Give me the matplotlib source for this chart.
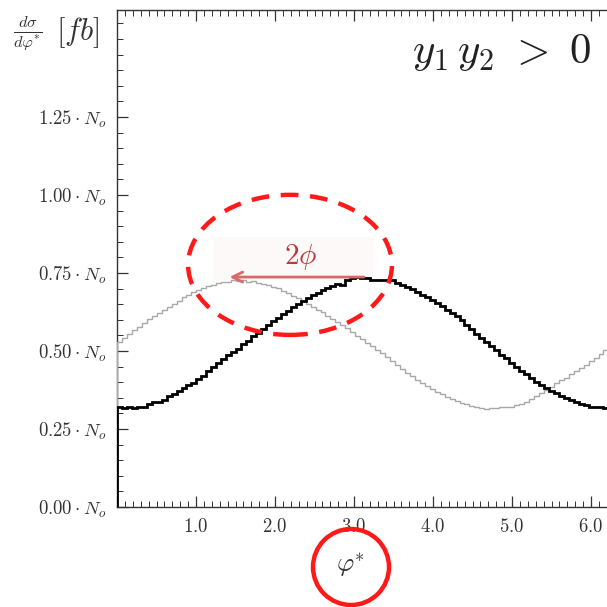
import numpy as np
import matplotlib
matplotlib.use('Agg')
import matplotlib.pyplot as plt
from matplotlib.patches import Ellipse, Circle, Rectangle
from matplotlib.ticker import MultipleLocator, FixedLocator, FuncFormatter

plt.rcParams['mathtext.fontset'] = 'cm'
plt.rcParams['font.family'] = ['DejaVu Serif']

# histogram bin contents (100 bins from 0 to 2*pi)
black_vals = [
    0.321, 0.317, 0.320, 0.316, 0.319, 0.322, 0.331, 0.335, 0.338, 0.344,
    0.355, 0.362, 0.372, 0.381, 0.390, 0.399, 0.410, 0.421, 0.436, 0.449,
    0.463, 0.474, 0.486, 0.497, 0.508, 0.522, 0.533, 0.547, 0.559, 0.572,
    0.584, 0.597, 0.607, 0.619, 0.628, 0.640, 0.651, 0.660, 0.671, 0.678,
    0.687, 0.695, 0.703, 0.708, 0.716, 0.713, 0.727, 0.735, 0.738, 0.733,
    0.734, 0.729, 0.728, 0.728, 0.727, 0.727, 0.717, 0.712, 0.705, 0.699,
    0.690, 0.681, 0.673, 0.662, 0.654, 0.645, 0.633, 0.621, 0.611, 0.598,
    0.583, 0.570, 0.556, 0.542, 0.528, 0.515, 0.502, 0.487, 0.476, 0.462,
    0.450, 0.437, 0.425, 0.413, 0.400, 0.392, 0.381, 0.372, 0.364, 0.356,
    0.349, 0.343, 0.336, 0.330, 0.328, 0.322, 0.321, 0.320, 0.318, 0.314,
]
gray_vals = [
    0.528, 0.541, 0.553, 0.567, 0.578, 0.590, 0.601, 0.612, 0.621, 0.630,
    0.641, 0.652, 0.660, 0.672, 0.679, 0.690, 0.694, 0.702, 0.708, 0.713,
    0.717, 0.722, 0.721, 0.726, 0.724, 0.727, 0.722, 0.723, 0.718, 0.714,
    0.710, 0.704, 0.701, 0.692, 0.686, 0.677, 0.670, 0.659, 0.651, 0.640,
    0.633, 0.624, 0.613, 0.603, 0.593, 0.584, 0.573, 0.562, 0.549, 0.537,
    0.526, 0.515, 0.503, 0.492, 0.480, 0.468, 0.455, 0.442, 0.430, 0.419,
    0.408, 0.398, 0.388, 0.378, 0.370, 0.361, 0.352, 0.346, 0.339, 0.333,
    0.329, 0.324, 0.321, 0.318, 0.313, 0.316, 0.317, 0.319, 0.320, 0.322,
    0.326, 0.330, 0.337, 0.346, 0.355, 0.365, 0.376, 0.386, 0.397, 0.406,
    0.415, 0.425, 0.436, 0.446, 0.456, 0.467, 0.478, 0.490, 0.502, 0.513,
]
edges = np.linspace(0, 2 * np.pi, len(black_vals) + 1)

x_major = [1.0, 2.0, 3.0, 4.0, 5.0, 6.0]
y_major = [0.0, 0.25, 0.50, 0.75, 1.00, 1.25]

fig = plt.figure(figsize=(6.07, 6.07), dpi=100)
ax = fig.add_axes([117 / 607, 100 / 607, 496.4 / 607, 497 / 607])
ax.set_xlim(0, 2 * np.pi)
ax.set_ylim(0, 497 / 312)

ax.stairs(gray_vals, edges, color='#a8a8a8', lw=1.0, zorder=3)
ax.stairs(black_vals, edges, color='black', lw=2.0, zorder=4)

# ticks
ax.xaxis.set_major_locator(FixedLocator(x_major))
ax.xaxis.set_minor_locator(MultipleLocator(0.1))
ax.yaxis.set_major_locator(FixedLocator(y_major))
ax.yaxis.set_minor_locator(MultipleLocator(0.05))
ax.xaxis.set_major_formatter(FuncFormatter(lambda v, p: r'$%.1f$' % v))
ax.yaxis.set_major_formatter(FuncFormatter(lambda v, p: r'$%.2f\cdot N_o$' % v))
ax.tick_params(which='both', direction='in', top=True, right=False,
               colors='#333333', labelsize=13.5)
ax.tick_params(which='major', length=8, width=0.9, pad=8)
ax.tick_params(which='minor', length=4, width=0.7)
for s in ax.spines.values():
    s.set_color('#333333')
    s.set_linewidth(1.0)

# annotation: shift arrow
ax.add_patch(Rectangle((1.215, 0.728), 2.03, 0.137, facecolor='#fef9f9',
                       edgecolor='none', zorder=1))
ax.annotate('', xy=(1.39, 0.737), xytext=(3.16, 0.737),
            arrowprops=dict(arrowstyle='->', color='#d86a6a', lw=2.0,
                            mutation_scale=18), zorder=5)
ax.text(2.32, 0.80, r'$2\phi$', color='#b83a3a', fontsize=21,
        ha='center', va='center', zorder=6)
ax.add_patch(Ellipse((2.19, 0.776), 2.58, 0.449, fill=False, edgecolor='#ff1a1a',
                     lw=3.2, linestyle=(0, (4, 2.6)), zorder=7, clip_on=False))

ax.text(6.01, 1.458, r'$y_{\mathit{1}}\,y_{\mathit{2}}\ >\ \mathit{0}$',
        fontsize=31, ha='right', va='center', color='#222222')

# labels
fig.text(13 / 607, 1 - 33 / 607, r'$\frac{d\sigma}{d\varphi^{*}}$',
         fontsize=17, ha='left', va='center', color='#333333')
fig.text(56 / 607, 1 - 33 / 607, r'$[fb]$',
         fontsize=22, ha='left', va='center', color='#333333')
fig.text(351 / 607, 1 - 565 / 607, r'$\varphi^{*}$', fontsize=19,
         ha='center', va='center', color='#333333')
fig.add_artist(Circle((351 / 607, 1 - 567 / 607), 38 / 607, fill=False,
                      edgecolor='#ff1a1a', lw=3.2, transform=fig.transFigure))

fig.savefig('out.png', dpi=100)
